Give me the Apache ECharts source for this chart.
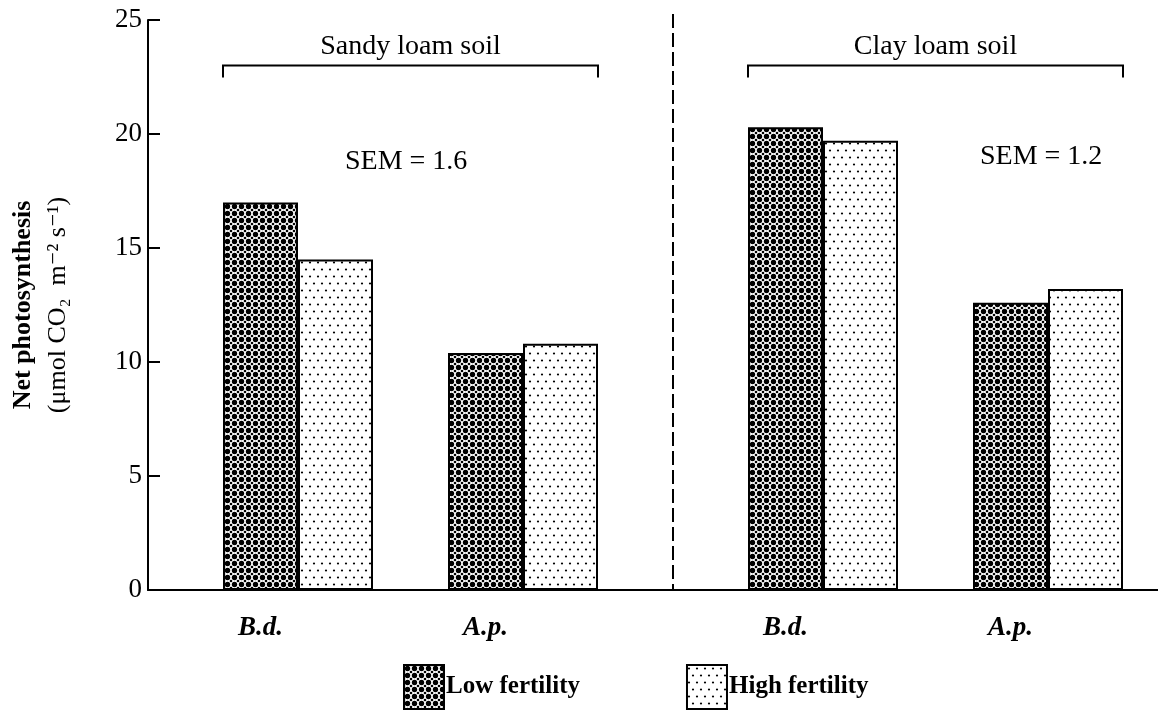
<!DOCTYPE html>
<html>
<head>
<meta charset="utf-8">
<script src="https://cdn.jsdelivr.net/npm/echarts@6/dist/echarts.min.js"></script>
<style>
  html, body { margin: 0; padding: 0; background: #fff; }
  #chart { width: 1158px; height: 710px; }
</style>
</head>
<body>
<div id="chart"></div>
<script>
const species = ['B.d.', 'A.p.', 'B.d.', 'A.p.'];
const soils = ['Sandy loam soil', 'Clay loam soil'];
const semLabels = ['SEM = 1.6', 'SEM = 1.2'];
const lowFertility = [17.0, 10.4, 20.3, 12.6];
const highFertility = [14.5, 10.8, 19.7, 13.2];
const yTicks = [0, 5, 10, 15, 20, 25];

// each bar takes one slot of the category axis, high bar sits right of low bar
const lowSlots = [1, 4, 8, 11];
const slotCount = 14;
const dividerSlot = 7; // dashed line on the left edge of this slot

const serif = "'Liberation Serif', 'DejaVu Serif', serif";

const categories = new Array(slotCount).fill('');
const lowData = new Array(slotCount).fill(null);
const highData = new Array(slotCount).fill(null);
lowSlots.forEach((s, i) => {
  categories[s] = species[i];
  lowData[s] = lowFertility[i];
  highData[s + 1] = highFertility[i];
});
// bracket over each soil: from first low bar to second high bar
const bracketData = soils.map((name, k) => [lowSlots[2 * k], lowSlots[2 * k + 1] + 1, 23]);

function makeTile(w, h, draw) {
  const c = document.createElement('canvas');
  c.width = w;
  c.height = h;
  draw(c.getContext('2d'));
  return c;
}
const lowTile = makeTile(7, 7, ctx => {
  ctx.fillStyle = '#fff';
  ctx.fillRect(0, 0, 7, 7);
  ctx.fillStyle = '#000';
  ctx.beginPath();
  ctx.arc(3.5, 3.5, 2.7, 0, Math.PI * 2);
  ctx.fill();
  // dark corners between the dots
  [[0, 0], [7, 0], [0, 7], [7, 7]].forEach(p => {
    ctx.beginPath();
    ctx.arc(p[0], p[1], 1.3, 0, Math.PI * 2);
    ctx.fill();
  });
});
const highTile = makeTile(8, 14, ctx => {
  ctx.fillStyle = '#fff';
  ctx.fillRect(0, 0, 8, 14);
  ctx.fillStyle = '#000';
  [[2, 3.5], [6, 10.5]].forEach(p => {
    ctx.beginPath();
    ctx.arc(p[0], p[1], 1.1, 0, Math.PI * 2);
    ctx.fill();
  });
});

const chart = echarts.init(document.getElementById('chart'));
chart.setOption({
  animation: false,
  backgroundColor: '#fff',
  grid: { left: 148, right: -40, top: 20, bottom: 120, outerBoundsMode: 'none', containLabel: false },
  legend: {
    data: ['Low fertility', 'High fertility'],
    left: 398,
    top: 659,
    itemWidth: 40,
    itemHeight: 44,
    itemGap: 106,
    icon: 'rect',
    textStyle: { fontFamily: serif, fontSize: 25, fontWeight: 'bold', color: '#000', padding: [0, 0, 0, -3] },
    itemStyle: { borderColor: '#000', borderWidth: 2 }
  },
  xAxis: {
    type: 'category',
    data: categories,
    axisLine: { lineStyle: { color: '#000', width: 2 } },
    axisTick: { show: false },
    axisLabel: {
      interval: 0,
      margin: 25,
      fontFamily: serif,
      fontSize: 27,
      fontStyle: 'italic',
      fontWeight: 'bold',
      color: '#000'
    },
    splitLine: { show: false }
  },
  yAxis: {
    type: 'value',
    min: yTicks[0],
    max: yTicks[yTicks.length - 1],
    interval: yTicks[1] - yTicks[0],
    name: '{a|Net photosynthesis}\n{b|(\u03bcmol CO\u2082  m\u207b\u00b2 s\u207b\u00b9)}',
    nameLocation: 'middle',
    nameRotate: 90,
    nameGap: 73,
    nameTextStyle: {
      rich: {
        a: { fontFamily: serif, fontSize: 26, fontWeight: 'bold', color: '#000', lineHeight: 36 },
        b: { fontFamily: serif, fontSize: 26, color: '#000', lineHeight: 34 }
      }
    },
    axisLine: { show: true, lineStyle: { color: '#000', width: 2 } },
    axisTick: { show: true, inside: true, length: 12, lineStyle: { color: '#000', width: 2 } },
    axisLabel: { fontFamily: serif, fontSize: 27, color: '#000', margin: 6 },
    splitLine: { show: false }
  },
  graphic: [
    { type: 'text', left: 345, top: 148, style: { text: semLabels[0], font: '28px ' + serif, fill: '#000' } },
    { type: 'text', left: 980, top: 143, style: { text: semLabels[1], font: '28px ' + serif, fill: '#000' } }
  ],
  series: [
    {
      name: 'Low fertility',
      type: 'bar',
      data: lowData,
      barWidth: '100%',
      barGap: '-100%',
      itemStyle: { color: { image: lowTile, repeat: 'repeat' }, borderColor: '#000', borderWidth: 2 }
    },
    {
      name: 'High fertility',
      type: 'bar',
      data: highData,
      barWidth: '100%',
      barGap: '-100%',
      itemStyle: { color: { image: highTile, repeat: 'repeat' }, borderColor: '#000', borderWidth: 2 }
    },
    {
      // soil brackets with their titles
      type: 'custom',
      data: bracketData,
      encode: { x: [0, 1], y: 2 },
      silent: true,
      renderItem: (params, api) => {
        const half = api.size([1, 0])[0] / 2;
        const a = api.coord([api.value(0), api.value(2)]);
        const b = api.coord([api.value(1), api.value(2)]);
        const x0 = a[0] - half;
        const x1 = b[0] + half;
        const y = a[1];
        return {
          type: 'group',
          children: [
            {
              type: 'polyline',
              shape: { points: [[x0, y + 12], [x0, y], [x1, y], [x1, y + 12]] },
              style: { stroke: '#000', lineWidth: 2, fill: null }
            },
            {
              type: 'text',
              x: (x0 + x1) / 2,
              y: y - 5,
              style: {
                text: soils[params.dataIndex],
                font: '28px ' + serif,
                fill: '#000',
                align: 'center',
                verticalAlign: 'bottom'
              }
            }
          ]
        };
      }
    },
    {
      // dashed divider between the two soils
      type: 'custom',
      data: [[dividerSlot, yTicks[0], yTicks[yTicks.length - 1]]],
      encode: { x: 0, y: [1, 2] },
      silent: true,
      renderItem: (params, api) => {
        const half = api.size([1, 0])[0] / 2;
        const bottom = api.coord([api.value(0), api.value(1)]);
        const top = api.coord([api.value(0), api.value(2)]);
        const x = bottom[0] - half;
        return {
          type: 'line',
          shape: { x1: x, y1: top[1] - 6, x2: x, y2: bottom[1] },
          style: { stroke: '#000', lineWidth: 2, lineDash: [14, 5] }
        };
      }
    }
  ]
});
</script>
</body>
</html>
